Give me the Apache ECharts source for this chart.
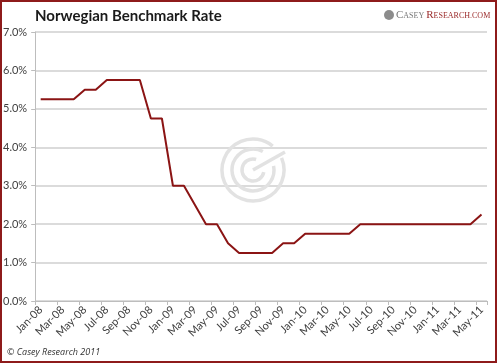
<!DOCTYPE html>
<html><head><meta charset="utf-8">
<script src="https://cdn.jsdelivr.net/npm/echarts@6/dist/echarts.min.js"></script>
<style>html,body{margin:0;padding:0;background:#fff}#c{width:500px;height:364px}</style>
</head><body><div id="c"></div>
<script>
const months = ['Jan-08','Feb-08','Mar-08','Apr-08','May-08','Jun-08','Jul-08','Aug-08','Sep-08','Oct-08','Nov-08','Dec-08',
 'Jan-09','Feb-09','Mar-09','Apr-09','May-09','Jun-09','Jul-09','Aug-09','Sep-09','Oct-09','Nov-09','Dec-09',
 'Jan-10','Feb-10','Mar-10','Apr-10','May-10','Jun-10','Jul-10','Aug-10','Sep-10','Oct-10','Nov-10','Dec-10',
 'Jan-11','Feb-11','Mar-11','Apr-11','May-11'];
const rates = [5.25,5.25,5.25,5.25,5.5,5.5,5.75,5.75,5.75,5.75,4.75,4.75,
 3.0,3.0,2.5,2.0,2.0,1.5,1.25,1.25,1.25,1.25,1.5,1.5,
 1.75,1.75,1.75,1.75,1.75,2.0,2.0,2.0,2.0,2.0,2.0,2.0,
 2.0,2.0,2.0,2.0,2.25];
const yTicks = [0,1,2,3,4,5,6,7];
const titleText = 'Norwegian Benchmark Rate';
const creditText = '\u00A9 Casey Research 2011';

const chart = echarts.init(document.getElementById('c'), null, {renderer:'canvas'});
const wmStyle = {stroke:'#e2e2e2', lineWidth:3.5, fill:null};
const fam = 'Lato, "Open Sans", sans-serif';
chart.setOption({
  animation:false,
  backgroundColor:'#fff',
  grid:{left:35, right:13, top:32, bottom:63, containLabel:false},
  xAxis:{type:'category', data:months, boundaryGap:true,
    axisLine:{lineStyle:{color:'#bdbdbd', width:1}},
    axisTick:{show:true, interval:1, length:4, lineStyle:{color:'#bdbdbd'}},
    axisLabel:{interval:1, rotate:45, fontFamily:fam, fontSize:11, color:'#404040', margin:7},
    splitLine:{show:false}},
  yAxis:{type:'value', min:0, max:7, interval:1,
    axisLine:{show:true, lineStyle:{color:'#bdbdbd'}},
    axisTick:{show:true, length:4, lineStyle:{color:'#bdbdbd'}},
    axisLabel:{formatter:v=>v.toFixed(1)+'%', fontFamily:fam, fontSize:11, color:'#404040', margin:8},
    splitLine:{lineStyle:{color:'#cfcfcf', width:1.5}}},
  series:[{type:'line', data:rates, symbol:'none', lineStyle:{color:'#8b1414', width:2}, z:5}],
  graphic:[
    {type:'rect', shape:{x:1,y:1,width:495,height:361}, style:{fill:null, stroke:'#8e1b1b', lineWidth:2}, z:100},
    {type:'text', left:35, top:9, style:{text:titleText, font:'bold 15px Lato, "Open Sans", sans-serif', fill:'#1a1a1a'}},
    {type:'text', left:7, top:348, style:{text:creditText, font:'italic 9px "Open Sans", "Liberation Sans", sans-serif', fill:'#333'}},
    {type:'circle', shape:{cx:389,cy:15,r:5}, style:{fill:'#8c8c8c'}},
    {type:'text', left:396, top:10, style:{rich:{
        a:{fontFamily:'"Liberation Serif", serif', fontSize:11, fill:'#777'},
        b:{fontFamily:'"Liberation Serif", serif', fontSize:8, fill:'#777'},
        c:{fontFamily:'"Liberation Serif", serif', fontSize:11, fill:'#9b2a2a'},
        d:{fontFamily:'"Liberation Serif", serif', fontSize:8, fill:'#9b2a2a'}},
      text:'{a|C}{b|ASEY }{c|R}{d|ESEARCH.COM}'}},
    {type:'arc', shape:{cx:253,cy:170,r:31,startAngle:-0.4,endAngle:5.4}, style:wmStyle, z:1},
    {type:'arc', shape:{cx:253,cy:170,r:21,startAngle:-0.2,endAngle:5.2}, style:wmStyle, z:1},
    {type:'arc', shape:{cx:253,cy:170,r:11,startAngle:0.2,endAngle:5.0}, style:wmStyle, z:1},
    {type:'line', shape:{x1:253,y1:170,x2:285,y2:152}, style:{stroke:'#e2e2e2', lineWidth:3.5}, z:1}
  ]
});
</script></body></html>
